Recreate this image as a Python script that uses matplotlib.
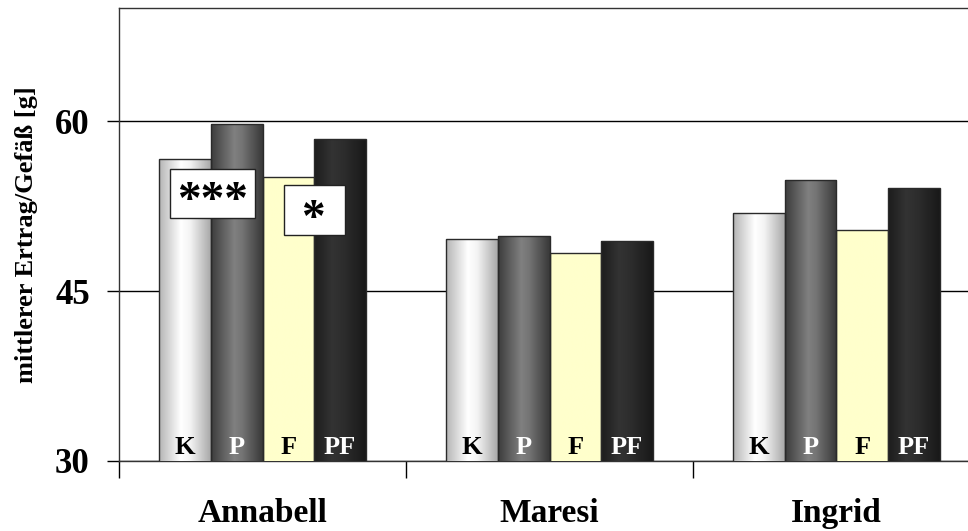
import numpy as np
import matplotlib.pyplot as plt
from matplotlib.colors import LinearSegmentedColormap
from matplotlib.patches import Rectangle

# Sorten und Varianten
sorten = ["Annabell", "Maresi", "Ingrid"]
varianten = ["K", "P", "F", "PF"]

# mittlerer Ertrag je Gefäß [g]
ertrag_K = [56.7, 49.6, 51.9]
ertrag_P = [59.8, 49.9, 54.8]
ertrag_F = [55.1, 48.4, 50.4]
ertrag_PF = [58.4, 49.4, 54.1]

# Signifikanzen bei Annabell
signif_text = ["***", "*"]

plt.rcParams['font.family'] = ['Liberation Serif', 'DejaVu Serif']

fig = plt.figure(figsize=(9.68, 5.31), dpi=100)
ax = fig.add_axes([119/968, 70/531, 861/968, 453/531])

# Farbverläufe (zylinderartig) für die Balken
verlauf = {
    "K": LinearSegmentedColormap.from_list("k", [(0, "#b4b4b4"), (0.42, "#ffffff"), (0.6, "#f4f4f4"), (1, "#a8a8a8")]),
    "P": LinearSegmentedColormap.from_list("p", [(0, "#3c3c3c"), (0.45, "#808080"), (0.6, "#747474"), (1, "#383838")]),
    "F": LinearSegmentedColormap.from_list("f", ["#ffffcc", "#ffffcc"]),
    "PF": LinearSegmentedColormap.from_list("pf", [(0, "#1c1c1c"), (0.35, "#333333"), (0.6, "#2c2c2c"), (1, "#181818")]),
}
textfarbe = {"K": "black", "P": "white", "F": "black", "PF": "white"}

daten = [ertrag_K, ertrag_P, ertrag_F, ertrag_PF]
x = np.arange(len(sorten))
breite = 0.18
ymin, ymax = 30, 70
grad = np.linspace(0, 1, 256).reshape(1, -1)

for i, (var, werte) in enumerate(zip(varianten, daten)):
    pos = x + (i - 1.5) * breite
    bars = ax.bar(pos, werte, width=breite, color="none", edgecolor="#2a2a2a",
                  linewidth=1.0, zorder=4)
    for b in bars:
        x0 = b.get_x()
        im = ax.imshow(grad, cmap=verlauf[var], aspect="auto", zorder=3,
                       extent=(x0, x0 + b.get_width(), ymin, b.get_height()))
        im.set_clip_path(b)
        ax.text(x0 + b.get_width() / 2, 30.6, var, ha="center", va="baseline",
                fontsize=19, fontweight="bold", color=textfarbe[var], zorder=5)

ax.set_xlim(-0.5, len(sorten) - 0.5)
ax.set_ylim(ymin, ymax)

# Signifikanz-Kästchen
boxen = [(-0.322, 51.42, 0.296, 4.37), (0.075, 49.94, 0.2135, 4.44)]
sterne_pos = [(-0.173, 53.96), (0.177, 52.35)]
for (bx, by, bw, bh), (sx, sy), txt in zip(boxen, sterne_pos, signif_text):
    ax.add_patch(Rectangle((bx, by), bw, bh, facecolor="white", edgecolor="#222222",
                           linewidth=1.0, zorder=6))
    ax.annotate(txt, (sx, sy), xytext=(0, -17), textcoords="offset points",
                ha="center", va="baseline", fontsize=34, fontweight="bold", zorder=7)

# Achsen
ax.set_yticks([30, 45, 60])
ax.set_yticklabels(["30", "45", "60"], fontsize=25, fontweight="bold")
ax.tick_params(axis="y", length=9, width=1, direction="out", pad=12)
ax.yaxis.grid(True, color="black", linewidth=1.0, zorder=0)
ax.set_axisbelow(True)

ax.set_xticks(x)
ax.set_xticklabels(sorten, fontsize=24, fontweight="bold")
for lab in ax.get_xticklabels():
    lab.set_va("baseline")
ax.tick_params(axis="x", which="major", length=0, pad=44)
ax.set_xticks(np.arange(-0.5, len(sorten), 1), minor=True)
ax.tick_params(axis="x", which="minor", length=12, width=1, direction="out")

ax.set_ylabel("mittlerer Ertrag/Gefäß [g]", fontsize=19, fontweight="bold", va="center")
ax.yaxis.set_label_coords(-0.107, 0.5)

for s in ["left", "top", "bottom"]:
    ax.spines[s].set_linewidth(1.0)
    ax.spines[s].set_color("#333333")
ax.spines["right"].set_visible(False)

fig.savefig("out.png", dpi=100, facecolor="white")
